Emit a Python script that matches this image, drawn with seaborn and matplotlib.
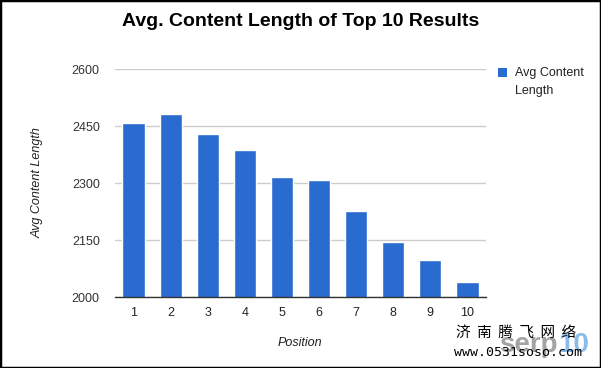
import matplotlib
matplotlib.use("Agg")
import matplotlib.pyplot as plt
import seaborn as sns
import pandas as pd
from matplotlib.patches import Rectangle

positions = ["1", "2", "3", "4", "5", "6", "7", "8", "9", "10"]
avg_length = [2459, 2482, 2430, 2388, 2317, 2309, 2227, 2146, 2098, 2040]
yticks = [2000, 2150, 2300, 2450, 2600]

df = pd.DataFrame({"Position": positions, "Avg Content Length": avg_length})

sns.set_theme(style="white")
plt.rcParams['font.family'] = ['Liberation Sans', 'DejaVu Sans']

W, H = 601, 368
fig = plt.figure(figsize=(W / 100, H / 100), dpi=100)
ax = fig.add_axes([115 / W, 1 - 297.3 / H, 371 / W, 228 / H])

sns.barplot(data=df, x="Position", y="Avg Content Length", color="#2a6bd0",
            saturation=1, width=0.6, ax=ax, zorder=3)

ax.set_ylim(2000, 2600)
ax.set_yticks(yticks)
ax.set_yticklabels([str(t) for t in yticks], fontsize=9, color="#333333")
ax.set_xlim(-0.5, 9.5)
ax.tick_params(axis="x", labelsize=9, labelcolor="#222222", length=0, pad=7)
ax.tick_params(axis="y", length=0, pad=11)
ax.grid(axis="y", color="#cccccc", linewidth=1, zorder=0)
for s in ["top", "right", "left"]:
    ax.spines[s].set_visible(False)
ax.spines["bottom"].set_color("#333333")
ax.spines["bottom"].set_linewidth(1)
ax.spines["bottom"].set_zorder(4)
ax.set_xlabel("")
ax.set_ylabel("")

fig.text(300 / W, 1 - 343 / H, "Position", ha="center", va="center",
         fontsize=9, style="italic", color="#222222")
fig.text(38 / W, 1 - 183 / H, "Avg Content Length", ha="center", va="center",
         rotation=90, fontsize=9, style="italic", color="#222222")

fig.text(301 / W, 1 - 22 / H, "Avg. Content Length of Top 10 Results",
         ha="center", va="center", fontsize=14, fontweight="bold",
         color="#000000")

# legend
fig.patches.append(Rectangle((498 / W, 1 - 77 / H), 9 / W, 9 / H,
                             transform=fig.transFigure, facecolor="#2a6bd0",
                             edgecolor="none"))
fig.text(515 / W, 1 - 73 / H, "Avg Content", ha="left", va="center",
         fontsize=9, color="#222222")
fig.text(515 / W, 1 - 91 / H, "Length", ha="left", va="center",
         fontsize=9, color="#222222")

# watermark (logo sits behind the text, as in the reference)
fig.text(528 / W, 1 - 345 / H, "serp", ha="center", va="center", fontsize=20,
         fontweight="bold", color="#666666", alpha=0.6, zorder=0)
fig.text(574 / W, 1 - 345 / H, "10", ha="center", va="center", fontsize=20,
         fontweight="bold", color="#3b8fe0", alpha=0.6, zorder=0)
fig.text(516 / W, 1 - 333 / H, "济  南  腾  飞  网  络", ha="center", va="center",
         fontsize=10.5, color="#000000", zorder=2,
         family=["Noto Sans CJK SC", "DejaVu Sans"])
fig.text(518 / W, 1 - 353 / H, "www.0531soso.com", ha="center", va="center",
         fontsize=9.5, color="#000000", zorder=2,
         family=["DejaVu Sans Mono", "DejaVu Sans"])

# border
fig.patches.append(Rectangle((0, 0), 1, 1, transform=fig.transFigure,
                             fill=False, edgecolor="#000000", linewidth=2.5))

fig.savefig("out.png", dpi=100)
